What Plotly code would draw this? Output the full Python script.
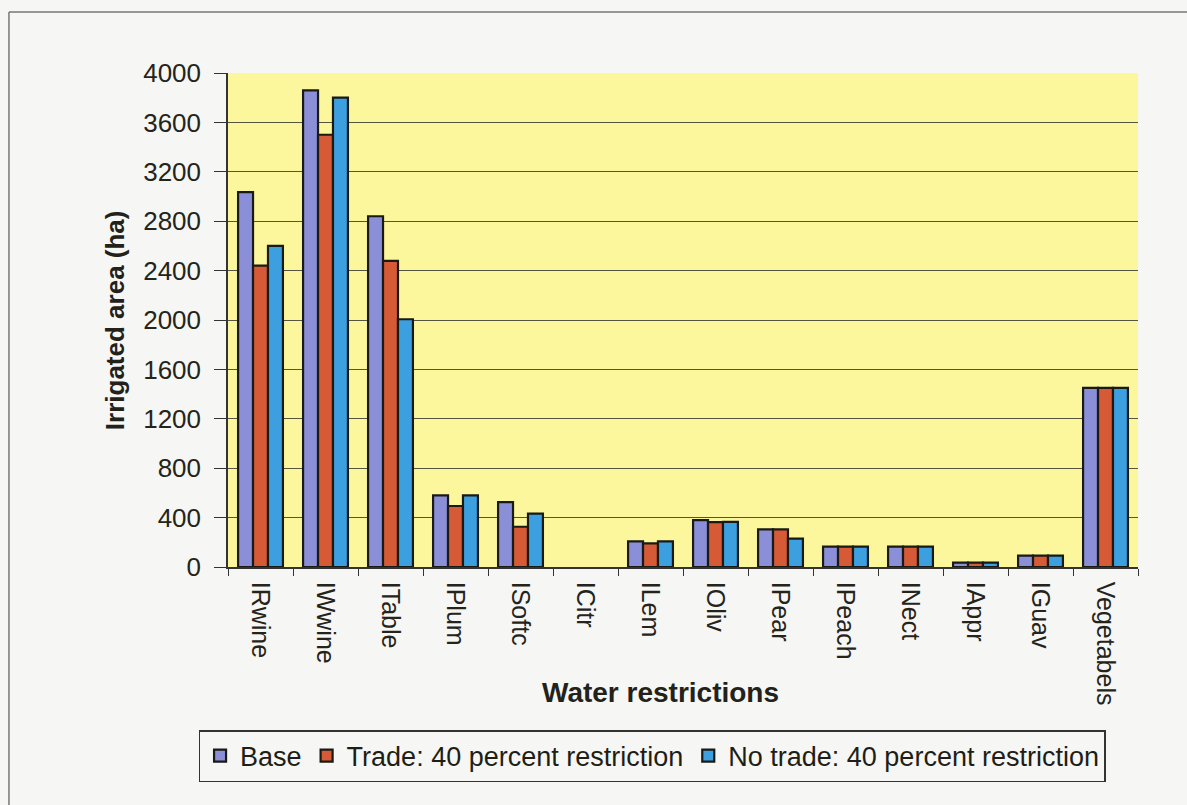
import plotly.graph_objects as go

# Irrigated area by crop under the water-restriction scenarios
crops = ["IRwine", "IWwine", "ITable", "IPlum", "ISoftc", "ICitr", "ILem",
         "IOliv", "IPear", "IPeach", "INect", "IAppr", "IGuav", "Vegetabels"]
base = [3035, 3860, 2840, 580, 525, 0, 208, 380, 305, 165, 165, 35, 92, 1450]
trade_40 = [2440, 3500, 2478, 494, 326, 0, 192, 364, 305, 165, 165, 35, 92, 1450]
no_trade_40 = [2600, 3800, 2006, 580, 432, 0, 208, 366, 229, 165, 165, 35, 92, 1450]

series_names = ["Base", "Trade: 40 percent restriction", "No trade: 40 percent restriction"]
series_values = [base, trade_40, no_trade_40]
series_colors = ["#8a8fd8", "#d65a36", "#3b9fe0"]

y_ticks = list(range(0, 4001, 400))

fig = go.Figure()
for name, vals, col in zip(series_names, series_values, series_colors):
    # zero-height bars get no outline, so nothing is drawn for them
    outline_w = [2.2 if v > 0 else 0 for v in vals]
    fig.add_trace(go.Bar(
        x=crops, y=vals, name=name,
        marker=dict(color=col, line=dict(color="#1a1a14", width=outline_w)),
    ))

text_col = "#24241a"
sans = "Liberation Sans, Arial, sans-serif"

# chart-area frame: top and left edges (the others run off the page)
frame = dict(color="#777777", width=1.5)
frame_shapes = [
    dict(type="line", xref="paper", yref="paper", x0=-0.2407, x1=1.3,
         y0=1.1235, y1=1.1235, line=frame, layer="below"),
    dict(type="line", xref="paper", yref="paper", x0=-0.2407, x1=-0.2407,
         y0=1.1235, y1=-0.6, line=frame, layer="below"),
]

fig.update_layout(
    width=1187, height=805,
    margin=dict(l=228, r=49, t=73, b=238),
    paper_bgcolor="#f6f6f4",
    plot_bgcolor="#fcf69c",
    barmode="group",
    bargap=0.31,
    bargroupgap=0,
    font=dict(family=sans, size=24, color=text_col),
    showlegend=True,
    legend=dict(
        orientation="h",
        x=0.466, xanchor="center",
        y=-0.33, yanchor="top",
        bgcolor="rgba(0,0,0,0)",
        bordercolor="#333333", borderwidth=1.5,
        font=dict(family=sans, size=27, color="#1e1e16"),
        itemwidth=30,
        tracegroupgap=0,
    ),
    xaxis=dict(
        type="category",
        tickangle=90,
        tickfont=dict(family=sans, size=25, color=text_col),
        ticklabelstandoff=8,
        showline=True, linecolor="#333", linewidth=1.5,
        ticks="outside", tickson="boundaries", ticklen=7, tickcolor="#333",
        showgrid=False,
    ),
    yaxis=dict(
        range=[0, 4000],
        tickvals=y_ticks,
        ticktext=[str(v) for v in y_ticks],
        tickfont=dict(family=sans, size=26, color=text_col),
        ticklabelstandoff=8,
        showline=True, linecolor="#333", linewidth=1.5,
        ticks="outside", ticklen=12, tickcolor="#333",
        showgrid=True, gridcolor="#55553f", gridwidth=1,
        zeroline=False,
    ),
    shapes=frame_shapes,
    annotations=[
        dict(text="<b>Water restrictions</b>", xref="paper", yref="paper",
             x=0.475, y=-0.255, showarrow=False, xanchor="center", yanchor="middle",
             font=dict(family=sans, size=28, color="#22221a")),
        dict(text="<b>Irrigated area (ha)</b>", xref="paper", yref="paper",
             x=-0.124, y=0.5, showarrow=False, xanchor="center", yanchor="middle",
             textangle=-90,
             font=dict(family=sans, size=26, color="#22221a")),
    ],
)

fig.write_html("out.html")
